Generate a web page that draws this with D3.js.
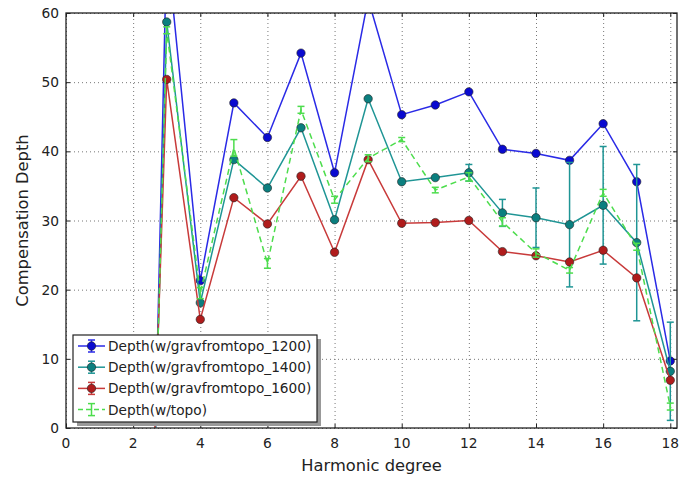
<!DOCTYPE html>
<html>
<head>
<meta charset="utf-8">
<script src="https://cdn.jsdelivr.net/npm/d3@7"></script>
<style>
  body { margin: 0; background: #fff; }
  text { font-family: "DejaVu Sans", sans-serif; fill: #222; }
</style>
</head>
<body>
<div class="chartBox"></div>
<script>
// harmonic degree vs compensation depth
var degrees = [2, 3, 4, 5, 6, 7, 8, 9, 10, 11, 12, 13, 14, 15, 16, 17, 18];

var depth1200 = [-140, 70, 21.3, 47.0, 42.0, 54.2, 36.9, 62, 45.3, 46.7, 48.6, 40.3, 39.7, 38.7, 44.0, 35.6, 9.7];
var depth1400 = [-119, 58.7, 18.1, 38.8, 34.7, 43.4, 30.1, 47.6, 35.6, 36.2, 36.9, 31.1, 30.4, 29.4, 32.2, 26.8, 8.2];
var err1400   = [0, 0, 0, 0, 0, 0, 0, 0, 0, 0, 1.2, 1.95, 4.3, 9.0, 8.5, 11.3, 7.1];
var depth1600 = [-93, 50.4, 15.7, 33.3, 29.5, 36.4, 25.4, 38.8, 29.6, 29.7, 30.0, 25.5, 24.9, 24.0, 25.7, 21.7, 6.9];
var depthTopo = [-115, 57.5, 19.5, 40.5, 23.8, 46.0, 33.0, 39.0, 41.7, 34.4, 36.3, 29.8, 25.3, 22.8, 34.0, 26.2, 3.1];
var errTopo   = [0, 0.5, 0.8, 1.2, 0.7, 0.5, 0.5, 0.5, 0.3, 0.4, 0.6, 0.6, 0.6, 0.4, 0.5, 0.5, 0.5];

var xTicks = [0, 2, 4, 6, 8, 10, 12, 14, 16, 18];
var yTicks = [0, 10, 20, 30, 40, 50, 60];

var series = [
  { name: 'Depth(w/gravfromtopo_1200)', values: depth1200, err: null,    line: '#2a2ae6', fill: '#0a0ad0', dash: null, marker: true },
  { name: 'Depth(w/gravfromtopo_1400)', values: depth1400, err: err1400, line: '#1f9595', fill: '#0b7f7f', dash: null, marker: true },
  { name: 'Depth(w/gravfromtopo_1600)', values: depth1600, err: null,    line: '#c83a3a', fill: '#b01c1c', dash: null, marker: true },
  { name: 'Depth(w/topo)',              values: depthTopo, err: errTopo, line: '#4ddd4d', fill: '#4ddd4d', dash: '6,4', marker: false }
];

var w = 697, h = 480;
var margin = { top: 13, right: 20, bottom: 52, left: 66 };

var x = d3.scaleLinear().domain([0, 18.2]).range([margin.left, w - margin.right]);
var y = d3.scaleLinear().domain([0, 60]).range([h - margin.bottom, margin.top]);

var svg = d3.select('div.chartBox')
  .append('svg')
  .attr('width', w)
  .attr('height', h);

svg.append('defs').append('clipPath')
  .attr('id', 'plotClip')
  .append('rect')
  .attr('x', x(0))
  .attr('y', y(60))
  .attr('width', x(18.2) - x(0))
  .attr('height', y(0) - y(60));

// grid
var grid = svg.append('g').attr('class', 'grid');
grid.selectAll('line.gx')
  .data(xTicks)
  .enter()
  .append('line')
  .attr('x1', function(d) { return x(d) + 0.5; })
  .attr('x2', function(d) { return x(d) + 0.5; })
  .attr('y1', y(0))
  .attr('y2', y(60))
  .attr('stroke', '#777')
  .attr('stroke-dasharray', '1,3');
grid.selectAll('line.gy')
  .data(yTicks)
  .enter()
  .append('line')
  .attr('y1', function(d) { return y(d) + 0.5; })
  .attr('y2', function(d) { return y(d) + 0.5; })
  .attr('x1', x(0))
  .attr('x2', x(18.2))
  .attr('stroke', '#777')
  .attr('stroke-dasharray', '1,3');

var plot = svg.append('g').attr('clip-path', 'url(#plotClip)');

var line = d3.line()
  .x(function(d) { return x(d[0]); })
  .y(function(d) { return y(d[1]); });

series.forEach(function(s) {
  var pts = degrees.map(function(d, i) { return [d, s.values[i], s.err ? s.err[i] : 0]; });
  var g = plot.append('g');

  g.append('path')
    .attr('d', line(pts))
    .attr('fill', 'none')
    .attr('stroke', s.line)
    .attr('stroke-width', 1.5)
    .attr('stroke-dasharray', s.dash);

  if (s.err) {
    var eb = g.selectAll('g.eb')
      .data(pts.filter(function(p) { return p[2] > 0; }))
      .enter()
      .append('g')
      .attr('stroke', s.line)
      .attr('stroke-width', 1.5);
    eb.append('line')
      .attr('x1', function(d) { return x(d[0]); })
      .attr('x2', function(d) { return x(d[0]); })
      .attr('y1', function(d) { return y(d[1] - d[2]); })
      .attr('y2', function(d) { return y(d[1] + d[2]); });
    eb.append('line')
      .attr('x1', function(d) { return x(d[0]) - 3.5; })
      .attr('x2', function(d) { return x(d[0]) + 3.5; })
      .attr('y1', function(d) { return y(d[1] - d[2]); })
      .attr('y2', function(d) { return y(d[1] - d[2]); });
    eb.append('line')
      .attr('x1', function(d) { return x(d[0]) - 3.5; })
      .attr('x2', function(d) { return x(d[0]) + 3.5; })
      .attr('y1', function(d) { return y(d[1] + d[2]); })
      .attr('y2', function(d) { return y(d[1] + d[2]); });
  }

  if (s.marker) {
    g.selectAll('circle')
      .data(pts)
      .enter()
      .append('circle')
      .attr('cx', function(d) { return x(d[0]); })
      .attr('cy', function(d) { return y(d[1]); })
      .attr('r', 4.2)
      .attr('fill', s.fill)
      .attr('stroke', '#222')
      .attr('stroke-width', 0.6);
  }
});

// frame + inward ticks on all sides
svg.append('rect')
  .attr('x', x(0))
  .attr('y', y(60))
  .attr('width', x(18.2) - x(0))
  .attr('height', y(0) - y(60))
  .attr('fill', 'none')
  .attr('stroke', '#222')
  .attr('stroke-width', 1.3);

var ticks = svg.append('g').attr('stroke', '#222').attr('stroke-width', 1);
xTicks.forEach(function(t) {
  ticks.append('line').attr('x1', x(t) + 0.5).attr('x2', x(t) + 0.5).attr('y1', y(0)).attr('y2', y(0) - 4);
  ticks.append('line').attr('x1', x(t) + 0.5).attr('x2', x(t) + 0.5).attr('y1', y(60)).attr('y2', y(60) + 4);
});
yTicks.forEach(function(t) {
  ticks.append('line').attr('y1', y(t) + 0.5).attr('y2', y(t) + 0.5).attr('x1', x(0)).attr('x2', x(0) + 4);
  ticks.append('line').attr('y1', y(t) + 0.5).attr('y2', y(t) + 0.5).attr('x1', x(18.2)).attr('x2', x(18.2) - 4);
});

svg.selectAll('text.xt')
  .data(xTicks)
  .enter()
  .append('text')
  .attr('x', function(d) { return x(d); })
  .attr('y', y(0) + 20)
  .attr('text-anchor', 'middle')
  .style('font-size', '13.8px')
  .text(function(d) { return d; });

svg.selectAll('text.yt')
  .data(yTicks)
  .enter()
  .append('text')
  .attr('x', x(0) - 7)
  .attr('y', function(d) { return y(d) + 5; })
  .attr('text-anchor', 'end')
  .style('font-size', '13.8px')
  .text(function(d) { return d; });

svg.append('text')
  .attr('x', (x(0) + x(18.2)) / 2)
  .attr('y', 471)
  .attr('text-anchor', 'middle')
  .style('font-size', '16.3px')
  .text('Harmonic degree');

svg.append('text')
  .attr('transform', 'translate(28,' + ((y(0) + y(60)) / 2) + ') rotate(-90)')
  .attr('text-anchor', 'middle')
  .style('font-size', '16.3px')
  .text('Compensation Depth');

// legend (bottom left, with shadow)
var lg = svg.append('g').attr('transform', 'translate(73,335)');
lg.append('rect')
  .attr('x', 4).attr('y', 4)
  .attr('width', 244).attr('height', 87)
  .attr('fill', '#999');
lg.append('rect')
  .attr('width', 244).attr('height', 87)
  .attr('fill', '#fff')
  .attr('stroke', '#222')
  .attr('stroke-width', 1.2);

var item = lg.selectAll('g.item')
  .data(series)
  .enter()
  .append('g')
  .attr('transform', function(d, i) { return 'translate(0,' + (11 + i * 21.2) + ')'; });

item.append('line')
  .attr('x1', 5).attr('x2', 32)
  .attr('stroke', function(d) { return d.line; })
  .attr('stroke-width', 1.5)
  .attr('stroke-dasharray', function(d) { return d.dash ? '5,3' : null; });
item.append('line')
  .attr('x1', 18.5).attr('x2', 18.5).attr('y1', -6).attr('y2', 6)
  .attr('stroke', function(d) { return d.line; })
  .attr('stroke-width', 1.5);
item.append('line')
  .attr('x1', 15).attr('x2', 22).attr('y1', -6).attr('y2', -6)
  .attr('stroke', function(d) { return d.line; })
  .attr('stroke-width', 1.5);
item.append('line')
  .attr('x1', 15).attr('x2', 22).attr('y1', 6).attr('y2', 6)
  .attr('stroke', function(d) { return d.line; })
  .attr('stroke-width', 1.5);
item.filter(function(d) { return d.marker; })
  .append('circle')
  .attr('cx', 18.5).attr('cy', 0).attr('r', 4.2)
  .attr('fill', function(d) { return d.fill; })
  .attr('stroke', '#222')
  .attr('stroke-width', 0.6);
item.append('text')
  .attr('x', 35)
  .attr('y', 5)
  .style('font-size', '13.7px')
  .text(function(d) { return d.name; });
</script>
</body>
</html>
